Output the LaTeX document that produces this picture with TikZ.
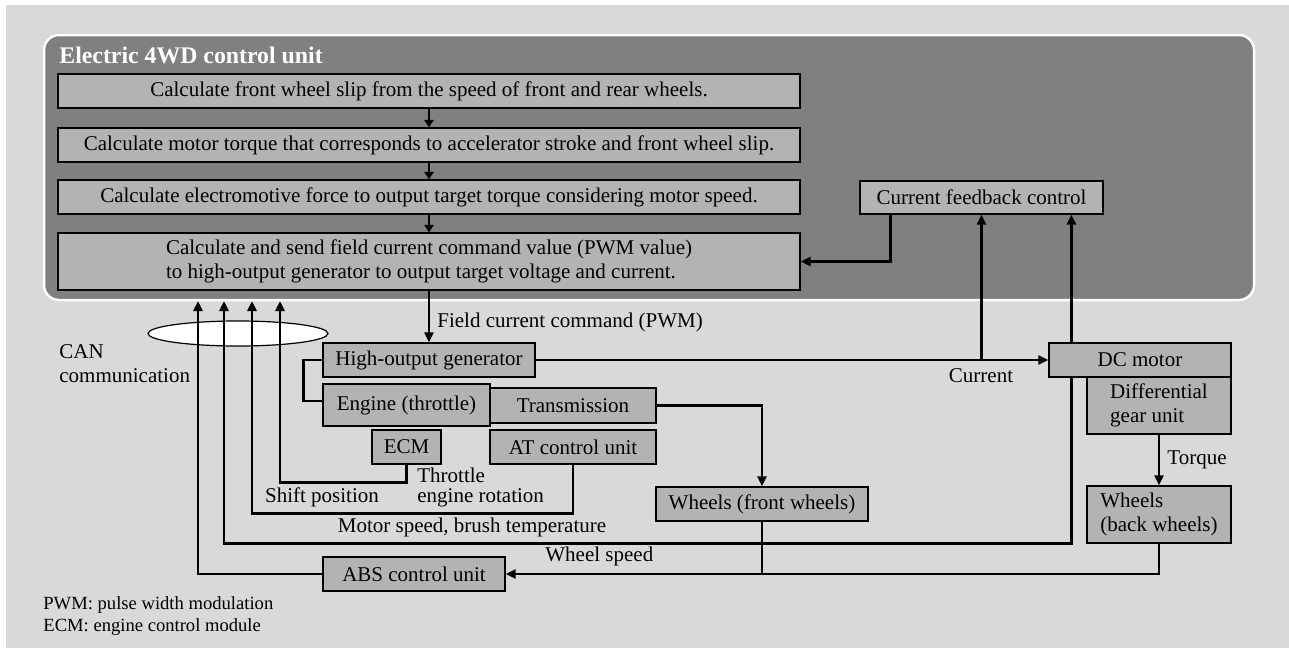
\documentclass[tikz,border=0pt]{standalone}
\usepackage{fontspec}
\setmainfont{Liberation Serif}
\usetikzlibrary{arrows.meta}
\usepackage{xcolor}
\definecolor{bggray}{HTML}{D9D9D9}
\definecolor{unitgray}{HTML}{808080}
\definecolor{boxgray}{HTML}{B3B3B3}

\begin{document}
\begin{tikzpicture}[x=0.5pt,y=-0.5pt,>={Triangle[length=5pt,width=4.5pt]},
  font=\fontsize{10.5}{12}\selectfont,line join=miter,
  blk/.style={draw,fill=boxgray,line width=0.6pt,inner sep=0pt,minimum height=17pt},
  conn/.style={line width=1.4pt},
  flow/.style={line width=1pt,-{Triangle[length=3.8pt,width=4.6pt]}},
  lbl/.style={inner sep=0pt}]
\useasboundingbox (0,0) rectangle (1289,648);
\fill[bggray] (6,5) rectangle (1289,648);
% control unit
\node[draw=white,fill=unitgray,line width=1.25pt,rounded corners=7.5pt,minimum width=605pt,minimum height=132.5pt,inner sep=0pt] (unit) at (649,167.5) {};
\node[lbl,anchor=west,text=white,font=\fontsize{11.9}{14}\selectfont\bfseries] (title) at (59,55) {Electric 4WD control unit};
\node[blk,minimum width=371pt] (calc1) at (429,91) {Calculate front wheel slip from the speed of front and rear wheels.};
\node[blk,minimum width=371pt] (calc2) at (429,145) {Calculate motor torque that corresponds to accelerator stroke and front wheel slip.};
\node[blk,minimum width=371pt] (calc3) at (429,197) {Calculate electromotive force to output target torque considering motor speed.};
\node[blk,minimum width=371pt,minimum height=28.5pt,align=left] (calc4) at (429,261.5) {Calculate and send field current command value (PWM value)\\to high-output generator to output target voltage and current.};
\node[blk,minimum width=121.5pt,minimum height=16.5pt] (cfc) at (981.5,197.5) {Current feedback control};
\draw[flow] (calc1) -- (calc2);
\draw[flow] (calc2) -- (calc3);
\draw[flow] (calc3) -- (calc4);
% devices
\node[blk,minimum width=106pt] (hog) at (429,360) {High-output generator};
\node[blk,minimum width=83.5pt,minimum height=21pt] (engine) at (406.5,405) {Engine (throttle)};
\node[blk,minimum width=83pt,minimum height=17.5pt] (trans) at (573,405.5) {Transmission};
\node[blk,minimum width=34.5pt] (ecm) at (406.5,447) {ECM};
\node[blk,minimum width=83pt] (atcu) at (573,447) {AT control unit};
\node[blk,minimum width=106pt] (wfront) at (762,504) {Wheels (front wheels)};
\node[blk,minimum width=91pt] (dcm) at (1140,360) {DC motor};
\node[blk,minimum width=72pt,minimum height=28.5pt,align=left] (diff) at (1159,405.5) {Differential\\gear unit};
\node[blk,minimum width=72pt,minimum height=28.5pt,align=left] (wback) at (1159,514.5) {Wheels\\(back wheels)};
\node[blk,minimum width=91pt] (abs) at (414,574) {ABS control unit};
% CAN
\filldraw[fill=white,line width=0.6pt] (238,333.5) ellipse [x radius=45pt,y radius=6.25pt];
\coordinate (in0) at (198,301);
\coordinate (in1) at (224,301);
\coordinate (in2) at (252,301);
\coordinate (in3) at (280,301);
\coordinate (fbk) at ([xshift=15.5pt]cfc.south west);
\coordinate (mtop) at ([xshift=11.5pt]dcm.north west);
\coordinate (mbot) at ([xshift=11.5pt]dcm.south west);
% connectors
\draw[conn,->] (calc4.south) -- (hog.north);
\draw[conn,->] (fbk) |- (calc4.east);
\draw[conn,->] (hog.east) -- (dcm.west);
\draw[conn,->] (cfc.south |- hog.east) -- (cfc.south);
\draw[conn,->] (mtop) -- (mtop |- cfc.south);
\draw[conn] (hog.west) -- ++(-19,0) |- ([yshift=2pt]engine.west);
\draw[conn,->] (trans.east) -| (wfront.north);
\draw[conn,->] (diff.south) -- (wback.north);
\draw[conn,->] (ecm.south) -- ++(0,18) -| (in3);
\draw[conn,->] (atcu.south) -- ++(0,49) -| (in2);
\draw[conn,->] (mbot) -- ++(0,166) -| (in1);
\draw[conn,->] (abs.west) -| (in0);
\draw[conn,->] (wback.south) |- (abs.east);
\draw[conn] (wfront.south) -- (wfront.south |- abs.east);
% labels
\node[lbl,anchor=west] (fieldlbl) at (437,322) {Field current command (PWM)};
\node[lbl] (curlbl) at (981,376) {Current};
\node[lbl,anchor=west,align=left] (canlbl) at (59,364) {CAN\\communication};
\node[lbl] (shiftlbl) at (322,497) {Shift position};
\node[lbl,anchor=west,align=left,font=\fontsize{10.5}{10}\selectfont] (thrlbl) at (417,487) {Throttle\\engine rotation};
\node[lbl] (motorlbl) at (472,527) {Motor speed, brush temperature};
\node[lbl,anchor=west] (wheellbl) at (545,556) {Wheel speed};
\node[lbl,anchor=west] (torquelbl) at (1167,460) {Torque};
\node[lbl,anchor=west,font=\fontsize{9.3}{11}\selectfont] (fn1) at (43,605) {PWM: pulse width modulation};
\node[lbl,anchor=west,font=\fontsize{9.3}{11}\selectfont] (fn2) at (43,627) {ECM: engine control module};
\end{tikzpicture}
\end{document}
